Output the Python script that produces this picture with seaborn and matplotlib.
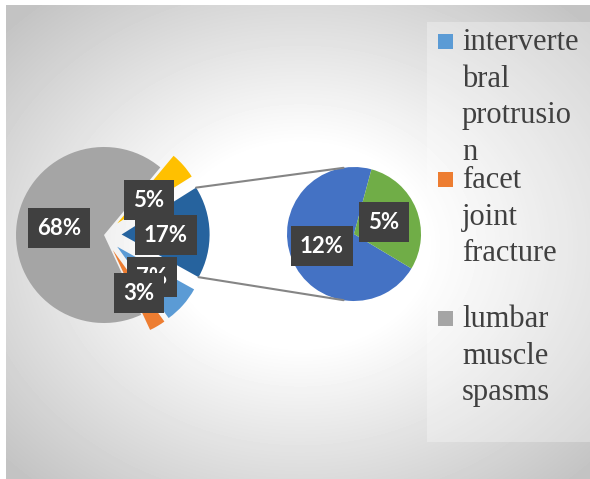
import numpy as np
import matplotlib
matplotlib.use("Agg")
import matplotlib.pyplot as plt
import seaborn as sns
from matplotlib.patches import Rectangle

# ---------------- data ----------------
main_labels = ["intervertebral protrusion", "facet joint fracture",
               "lumbar muscle spasms", "category 4", "Other"]
main_values = [7, 3, 68, 5, 17]
sub_labels = ["category 5", "category 6"]
sub_values = [12, 5]
legend_lines = [["interverte", "bral", "protrusio", "n"],
                ["facet", "joint", "fracture"],
                ["lumbar", "muscle", "spasms"]]

# ---------------- style ----------------
sns.set_style("white")
plt.rcParams['font.family'] = ['Lato', 'DejaVu Sans']
plt.rcParams['font.serif'] = ['Liberation Serif', 'DejaVu Serif']
main_colors = sns.color_palette(["#5B9BD5", "#ED7D31", "#A5A5A5", "#FFC000", "#26639E"])
sub_colors = sns.color_palette(["#4472C4", "#70AD47"])

W, H = 590, 479
fig = plt.figure(figsize=(W / 100, H / 100), dpi=100)
fig.patch.set_facecolor("white")

# background radial gradient (chart area)
x0, y0 = 6, 5
bg = fig.add_axes([x0 / W, 0, (W - x0) / W, (H - y0) / H])
xs = np.arange(x0, W)
ys = np.arange(y0, H)
XX, YY = np.meshgrid(xs, ys)
dn = np.sqrt(((XX - 300) / 300.0) ** 2 + ((YY - 245) / 240.0) ** 2)
val = np.clip(255 - 62 * (dn - 0.42) / 0.95, 196, 255) / 255.0
bg.imshow(val, cmap="gray", vmin=0, vmax=1, aspect="auto", interpolation="bilinear")
bg.set_axis_off()

ax = fig.add_axes([0, 0, 1, 1])
ax.patch.set_alpha(0)


def py(y):
    return H - y


# legend panel
ax.add_patch(Rectangle((427, py(442)), 163, 420, facecolor="white", alpha=0.3,
                       edgecolor="none", zorder=0))

# ---------------- main pie ----------------
main_center = (104, py(235))
main_r = 88
explode_frac = [0.2, 0.2, 0.0, 0.2, 0.2]
wedges, _ = ax.pie(main_values, colors=main_colors,
                   explode=[e * main_r for e in explode_frac],
                   startangle=-29, counterclock=False, center=main_center,
                   radius=main_r, wedgeprops=dict(linewidth=0))

# ---------------- secondary pie ----------------
sub_center = (354, py(234))
sub_r = 67
wedges2, _ = ax.pie(sub_values, colors=sub_colors, startangle=-31,
                    counterclock=False, center=sub_center, radius=sub_r,
                    wedgeprops=dict(linewidth=0))

ax.set_xlim(0, W)
ax.set_ylim(0, H)
ax.set_aspect("auto")
ax.set_axis_off()

# connector lines
ow = wedges[4]
cx, cy = ow.center
pa = (cx + ow.r * np.cos(np.radians(ow.theta1)), cy + ow.r * np.sin(np.radians(ow.theta1)))
pb = (cx + ow.r * np.cos(np.radians(ow.theta2)), cy + ow.r * np.sin(np.radians(ow.theta2)))
top_main, bot_main = (pa, pb) if pa[1] > pb[1] else (pb, pa)
top_sub = (sub_center[0] + sub_r * np.cos(np.radians(99)), sub_center[1] + sub_r * np.sin(np.radians(99)))
bot_sub = (sub_center[0] + sub_r * np.cos(np.radians(-99)), sub_center[1] + sub_r * np.sin(np.radians(-99)))
for a, b in [(top_main, top_sub), (bot_main, bot_sub)]:
    ax.plot([a[0], b[0]], [a[1], b[1]], color="#858585", lw=1.5, zorder=1)

# ---------------- data labels ----------------
main_label_pos = [(152, 277), (139, 293), (59, 228), (149, 200), (166, 235)]
sub_label_pos = [(322, 246), (384, 222)]
box = dict(boxstyle="square,pad=0.42", fc="#404040", ec="none")
z = 5
for v, (lx, ly) in list(zip(main_values, main_label_pos)) + list(zip(sub_values, sub_label_pos)):
    ax.text(lx, py(ly), f"{v}%", color="white", fontsize=16, fontweight="bold",
            ha="center", va="center", bbox=box, zorder=z)
    z += 1

# ---------------- legend ----------------
entry_base = [50, 188, 327]
line_step = 36.5
leg_colors = main_colors[:3]
for lines, base, col in zip(legend_lines, entry_base, leg_colors):
    ax.add_patch(Rectangle((438, py(base - 1)), 15, 15, facecolor=col, edgecolor="none", zorder=3))
    for i, t in enumerate(lines):
        ax.text(462, py(base + i * line_step), t, fontfamily="serif", fontsize=22,
                color="#404040", va="baseline", ha="left", zorder=3)

fig.savefig("out.png", dpi=100)
